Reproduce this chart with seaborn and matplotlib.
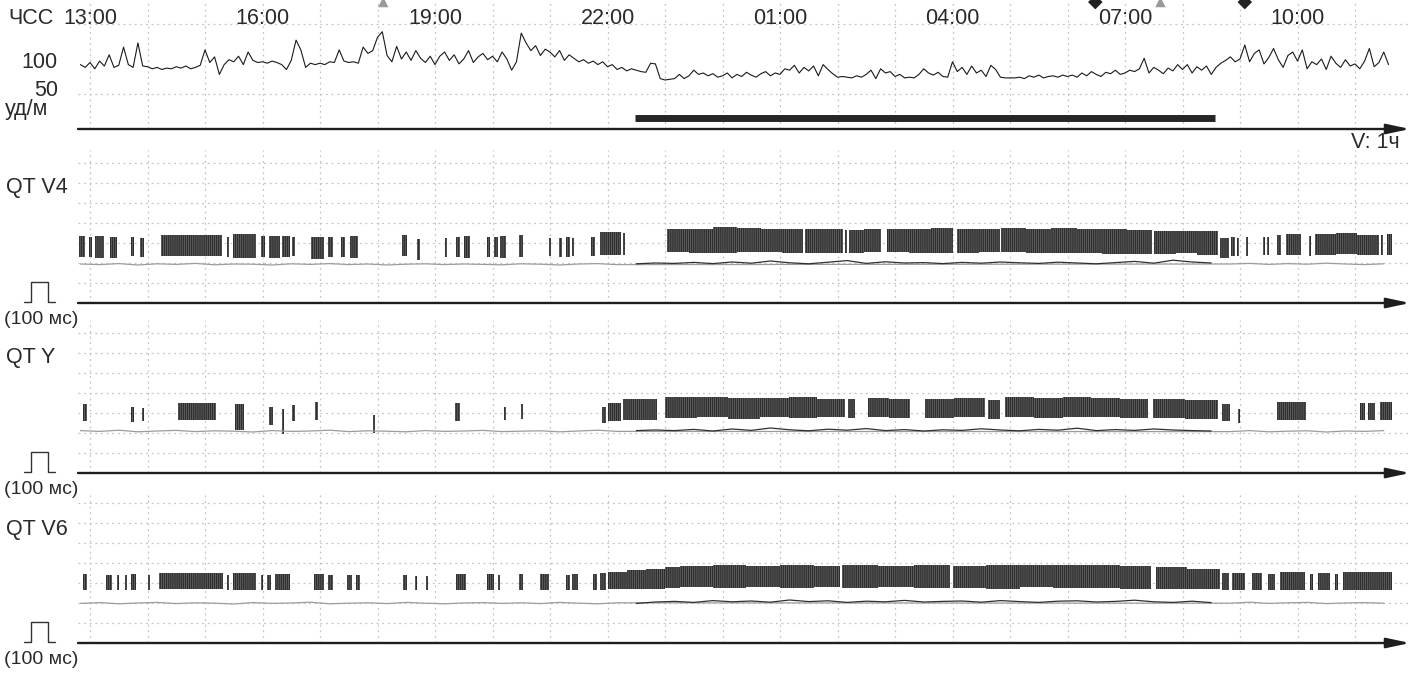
import numpy as np
import pandas as pd
import matplotlib
matplotlib.use("Agg")
import matplotlib.pyplot as plt
from matplotlib.lines import Line2D
import seaborn as sns

# ---------------- DATA ----------------
# time unit: minutes since 13:00
hr_start_min = -10          # first HR sample at 12:50
hr_step_min = 5
hr_afternoon = [92, 88,
                95, 86, 97, 90, 106, 88, 91, 117, 92, 88, 123, 90,
                89, 86, 88, 85, 87, 86, 89, 87, 90, 86, 88, 91,
                113, 95, 103, 78, 92, 99, 96, 104, 92, 110, 98, 95,
                96, 94, 97, 95, 92, 85, 98, 127, 113, 88, 94, 92,
                94, 92, 96, 95, 113, 97, 95, 96, 94, 117, 108, 112]
hr_evening = [131, 139, 105, 96, 118, 100, 110, 98, 112, 101, 95, 104,
              92, 104, 110, 98, 106, 93, 100, 112, 95, 103, 108, 99,
              104, 96, 110, 100, 84, 96, 137, 123, 112, 119, 105, 114,
              110, 103, 112, 98, 106, 101, 96, 99, 94, 97, 92, 96,
              89, 92, 85, 88, 83, 86, 84, 82, 81, 94, 93, 72]
hr_night = [70, 71, 72, 78, 72, 76, 84, 78, 80, 76, 79, 74,
            76, 80, 73, 78, 75, 81, 77, 74, 79, 82, 76, 80,
            78, 86, 84, 91, 80, 88, 83, 90, 76, 92, 85, 79,
            74, 75, 74, 73, 76, 74, 78, 84, 72, 86, 80, 82,
            75, 78, 73, 74, 73, 78, 86, 80, 77, 81, 75, 74,
            96, 82, 88, 78, 90, 80, 84, 75, 91, 85, 74, 73,
            73, 73, 74, 72, 76, 74, 77, 73, 75, 76, 74, 77,
            75, 77, 74, 80, 76, 82, 78, 75, 81, 79, 84, 78]
hr_morning = [80, 84, 82, 86, 101, 80, 88, 84, 79, 87, 83, 92,
              85, 92, 80, 89, 84, 90, 78, 88, 94, 98, 103, 96,
              100, 120, 96, 108, 113, 93, 102, 115, 99, 88, 105, 110,
              97, 113, 86, 96, 92, 100, 85, 104, 94, 88, 99, 90,
              93, 86, 97, 115, 89, 95, 110, 92]

sleep_start_min = 569       # ~22:29
sleep_end_min = 1174        # ~08:34

event_min = [306, 1049, 1117, 1205]
event_kind = ["activity", "button", "activity", "button"]

tick_min = [0, 180, 360, 540, 720, 900, 1080, 1260]
tick_labels = ["13:00", "16:00", "19:00", "22:00", "01:00", "04:00", "07:00", "10:00"]

# QT V4 segments (minutes since 13:00) and range (ms)
v4_start = [-12, -1, 5, 21, 43, 52, 74, 143, 149, 178, 187, 200, 211, 231, 248, 262, 271,
            326, 341, 370, 382, 390, 414, 422, 428, 448, 479, 489, 497, 503, 523, 532, 556,
            602, 625, 650, 675, 700, 722, 746, 766, 788, 792, 808, 832, 855, 878, 905, 928,
            951, 977, 1003, 1030, 1056, 1082, 1110, 1133, 1155,
            1179, 1191, 1197, 1206, 1224, 1228, 1239, 1248, 1272, 1278, 1300, 1322, 1347, 1353]
v4_end = [-5, 2, 15, 28, 46, 56, 138, 145, 173, 183, 198, 209, 214, 244, 254, 266, 280,
          331, 344, 373, 386, 397, 417, 426, 434, 452, 481, 493, 501, 505, 527, 554, 558,
          625, 650, 675, 700, 722, 744, 766, 786, 790, 808, 825, 855, 878, 901, 928, 950,
          977, 1003, 1030, 1056, 1082, 1108, 1133, 1155, 1177,
          1189, 1195, 1199, 1208, 1226, 1230, 1243, 1264, 1274, 1300, 1322, 1345, 1349, 1359]
v4_low = [230, 230, 225, 225, 235, 230, 235, 230, 225, 230, 225, 230, 235, 220, 230, 230, 225,
          235, 215, 230, 230, 225, 230, 230, 225, 230, 235, 230, 230, 235, 235, 240, 240,
          255, 252, 250, 253, 255, 250, 252, 248, 250, 250, 254, 255, 250, 252, 250, 254,
          255, 252, 250, 248, 245, 243, 245, 248, 242,
          225, 235, 235, 235, 240, 240, 240, 240, 235, 240, 243, 238, 240, 240]
v4_high = [335, 330, 335, 330, 330, 325, 340, 330, 345, 335, 335, 335, 330, 330, 330, 330, 335,
           340, 320, 325, 330, 335, 330, 330, 335, 340, 325, 325, 330, 325, 330, 355, 350,
           368, 372, 378, 375, 370, 372, 368, 372, 365, 366, 370, 372, 369, 374, 370, 368,
           375, 372, 377, 372, 370, 366, 362, 360, 358,
           325, 330, 325, 330, 330, 330, 340, 345, 335, 345, 350, 342, 340, 345]

# QT Y segments
y_start = [-7, 43, 54, 92, 151, 187, 200, 211, 235, 295, 381, 432, 450, 534, 541, 556,
           600, 633, 666, 699, 729, 759, 791, 812, 834, 871, 902, 937,
           955, 985, 1015, 1045, 1075, 1109, 1143, 1181, 1198, 1239, 1325, 1334, 1346]
y_end = [-3, 46, 56, 131, 161, 191, 202, 214, 238, 297, 386, 434, 452, 538, 554, 592,
         633, 666, 699, 729, 759, 788, 798, 834, 856, 902, 934, 950,
         985, 1015, 1045, 1075, 1104, 1143, 1177, 1190, 1200, 1269, 1330, 1341, 1359]
y_low = [260, 255, 260, 265, 215, 240, 195, 260, 265, 200, 260, 265, 270, 250, 260, 265,
         275, 278, 272, 280, 276, 282, 275, 280, 276, 275, 278, 270,
         280, 276, 282, 278, 274, 275, 270, 260, 250, 265, 265, 265, 265]
y_high = [345, 330, 325, 350, 345, 330, 320, 340, 355, 290, 350, 330, 345, 330, 350, 370,
          378, 382, 376, 375, 380, 372, 370, 376, 372, 370, 374, 365,
          378, 374, 380, 376, 372, 372, 366, 345, 320, 355, 350, 350, 355]

# QT V6 segments
v6_start = [-7, 17, 28, 37, 43, 61, 72, 143, 149, 178, 185, 193, 234, 248, 268, 278,
            327, 339, 351, 382, 414, 426, 448, 470, 497, 503, 525, 532,
            541, 560, 580, 600, 616, 650, 685, 720, 755, 785, 822, 860,
            900, 935, 970, 1005, 1040, 1075, 1112, 1145,
            1181, 1192, 1212, 1229, 1242, 1273, 1281, 1299, 1307]
v6_end = [-3, 23, 30, 39, 48, 63, 139, 145, 173, 181, 189, 209, 244, 254, 273, 282,
          331, 341, 353, 392, 422, 428, 452, 479, 501, 509, 529, 538,
          560, 580, 600, 616, 650, 685, 720, 755, 783, 822, 860, 897,
          935, 970, 1005, 1040, 1075, 1107, 1145, 1179,
          1188, 1205, 1223, 1237, 1268, 1276, 1294, 1302, 1359]
v6_low = [265, 265, 265, 265, 265, 265, 270, 265, 265, 265, 265, 265, 265, 265, 265, 265,
          265, 265, 265, 265, 265, 265, 265, 265, 265, 265, 265, 265,
          268, 270, 272, 275, 278, 275, 280, 276, 278, 275, 278, 274,
          276, 272, 278, 275, 277, 272, 270, 268,
          265, 265, 265, 265, 265, 265, 265, 265, 265]
v6_high = [345, 340, 340, 340, 345, 340, 350, 340, 350, 340, 340, 345, 345, 340, 340, 340,
           340, 335, 335, 345, 345, 340, 345, 345, 340, 345, 345, 350,
           355, 365, 372, 380, 385, 388, 384, 390, 386, 388, 385, 390,
           386, 390, 388, 392, 388, 385, 378, 372,
           350, 350, 350, 345, 355, 345, 350, 345, 355]

# thin lower traces, one sample every 20 min from 12:50
thin_start_min = -10
thin_step_min = 20
v4_thin = [195, 192, 197, 190, 196, 193, 198, 191, 195, 194, 190, 196, 193, 197, 192, 195, 190,
           194, 196, 192, 195, 193, 191, 196, 194, 190, 195, 197, 192, 196,
           200, 198, 203, 197, 205, 199, 210, 201, 196, 204, 212, 198, 206, 200, 202, 197,
           203, 199, 205, 201, 198, 204, 200, 196, 202, 208, 199, 214, 205,
           200, 195, 198, 193, 197, 194, 199, 195, 192, 196]
y_thin = [212, 208, 214, 206, 210, 213, 207, 211, 209, 205, 212, 208, 210, 214, 207, 211, 209,
          206, 212, 208, 210, 213, 207, 209, 211, 206, 210, 214, 208, 212,
          215, 212, 218, 210, 220, 213, 225, 216, 211, 219, 214, 222, 212, 217, 210, 216,
          213, 221, 215, 211, 218, 214, 224, 212, 217, 213, 220, 215, 212,
          210, 207, 212, 206, 209, 211, 205, 210, 208, 212]
v6_thin = [198, 202, 196, 200, 203, 197, 201, 199, 195, 202, 198, 200, 204, 196, 199, 201, 197,
           203, 199, 196, 200, 202, 198, 201, 197, 203, 199, 196, 201, 198,
           205, 208, 203, 212, 206, 210, 204, 215, 207, 211, 203, 209, 206, 213, 205, 208,
           210, 204, 212, 207, 203, 209, 211, 205, 208, 214, 206, 203, 209,
           202, 199, 204, 198, 201, 203, 197, 200, 202, 199]

# ---------------- STYLE / LAYOUT ----------------
W, H = 1422, 674
sns.set_theme(style="white")
plt.rcParams['font.family'] = ['Liberation Sans', 'DejaVu Sans']
plt.rcParams['hatch.linewidth'] = 0.5
TXT = '#2a2a2a'
GRID = '#c4c4c4'
FS = 15.5

fig = plt.figure(figsize=(W / 100, H / 100), dpi=100)
fig.patch.set_facecolor('white')

AX_L, AX_R = 78, 1410
PX_PER_MIN = 57.5 / 60.0
XMIN = -(90 - AX_L) / PX_PER_MIN
XMAX = XMIN + (AX_R - AX_L) / PX_PER_MIN


def px_axes(top, bottom):
    return fig.add_axes([AX_L / W, 1 - bottom / H, (AX_R - AX_L) / W, (bottom - top) / H])


def base_style(ax, ymax, hgrid):
    ax.set_xlim(XMIN, XMAX)
    ax.set_ylim(0, ymax)
    ax.set_facecolor('none')
    for s in ax.spines.values():
        s.set_visible(False)
    ax.set_xticks(np.arange(0, XMAX, 60))
    ax.set_xticklabels([])
    ax.set_yticks(hgrid)
    ax.set_yticklabels([])
    ax.tick_params(length=0)
    ax.grid(True, axis='both', color=GRID, ls=(0, (1.5, 3)), lw=0.9)
    ax.annotate('', xy=(1.0, 0.0), xytext=(0.0, 0.0), xycoords='axes fraction',
                arrowprops=dict(arrowstyle='-|>,head_length=1.4,head_width=0.3',
                                color='#1e1e1e', lw=1.7, mutation_scale=10,
                                shrinkA=0, shrinkB=0), annotation_clip=False)


# ---- HR panel ----
hr = hr_afternoon + hr_evening + hr_night + hr_morning
hr_t = hr_start_min + hr_step_min * np.arange(len(hr))
HR_TOP, HR_BOT = 0, 129
hr_ymax = (HR_BOT - HR_TOP) / 0.7
ax_hr = px_axes(HR_TOP, HR_BOT)
base_style(ax_hr, hr_ymax, [50, 150])
sns.lineplot(x=hr_t, y=hr, ax=ax_hr, color='#1a1a1a', lw=0.8)
ax_hr.hlines(16, sleep_start_min, sleep_end_min, color='#262626', lw=5)
for t, lab in zip(tick_min, tick_labels):
    ax_hr.text(t, 1 - 18 / (HR_BOT - HR_TOP), lab, transform=ax_hr.get_xaxis_transform(),
               ha='center', va='center', fontsize=FS, color=TXT)
ev = pd.DataFrame({'t': event_min, 'kind': event_kind})
ev['y'] = hr_ymax - 3
sns.scatterplot(data=ev, x='t', y='y', hue='kind', style='kind',
                palette={'activity': '#9a9a9a', 'button': '#222222'},
                markers={'activity': '^', 'button': 'D'}, s=55, legend=False,
                ax=ax_hr, clip_on=False, edgecolor='none')
ax_hr.set_xlabel('')
ax_hr.set_ylabel('')

fig.text(8 / W, 1 - 18 / H, 'ЧСС', fontsize=FS, color=TXT, va='center', ha='left')
fig.text(58 / W, 1 - 62 / H, '100', fontsize=FS, color=TXT, va='center', ha='right')
fig.text(58 / W, 1 - 90 / H, '50', fontsize=FS, color=TXT, va='center', ha='right')
fig.text(5 / W, 1 - 110 / H, 'уд/м', fontsize=FS, color=TXT, va='center', ha='left')
fig.text(1400 / W, 1 - 142 / H, 'V: 1ч', fontsize=FS, color=TXT, va='center', ha='right')


# ---- QT panels ----
def qt_panel(name, top, bottom, starts, ends, lows, highs, thin):
    ymax = (bottom - top) * 5.0
    ax = px_axes(top, bottom)
    base_style(ax, ymax, np.arange(100, ymax, 100))
    s = np.array(starts, float)
    e = np.array(ends, float)
    lo = np.array(lows, float)
    hi = np.array(highs, float)
    ax.bar(s, hi - lo, width=e - s, bottom=lo, align='edge', color='#2e2e2e',
           edgecolor='#6e6e6e', hatch='||||||||', linewidth=0)
    tt = thin_start_min + thin_step_min * np.arange(len(thin))
    df = pd.DataFrame({'t': tt, 'v': thin})
    df['period'] = np.where((df.t >= sleep_start_min) & (df.t <= sleep_end_min), 'night', 'day')
    sns.lineplot(data=df, x='t', y='v', hue='period',
                 palette={'day': '#9c9c9c', 'night': '#303030'}, lw=0.9,
                 legend=False, ax=ax)
    ax.set_xlabel('')
    ax.set_ylabel('')
    fig.text(6 / W, 1 - (top + 37) / H, name, fontsize=FS, color=TXT, va='center', ha='left')
    fig.text(4 / W, 1 - (bottom + 17) / H, '(100 мс)', fontsize=14, color=TXT, va='center', ha='left')
    pb = bottom - 1
    pt = pb - 100 / 5.0
    xs = np.array([24, 31, 31, 48, 48, 55]) / W
    ys = 1 - np.array([pb, pb, pt, pt, pb, pb]) / H
    fig.add_artist(Line2D(xs, ys, transform=fig.transFigure, color='#333333', lw=1.0))
    return ax


qt_panel('QT V4', 150, 303, v4_start, v4_end, v4_low, v4_high, v4_thin)
qt_panel('QT Y', 320, 473, y_start, y_end, y_low, y_high, y_thin)
qt_panel('QT V6', 493, 643, v6_start, v6_end, v6_low, v6_high, v6_thin)

fig.savefig('out.png', dpi=100, facecolor='white')
